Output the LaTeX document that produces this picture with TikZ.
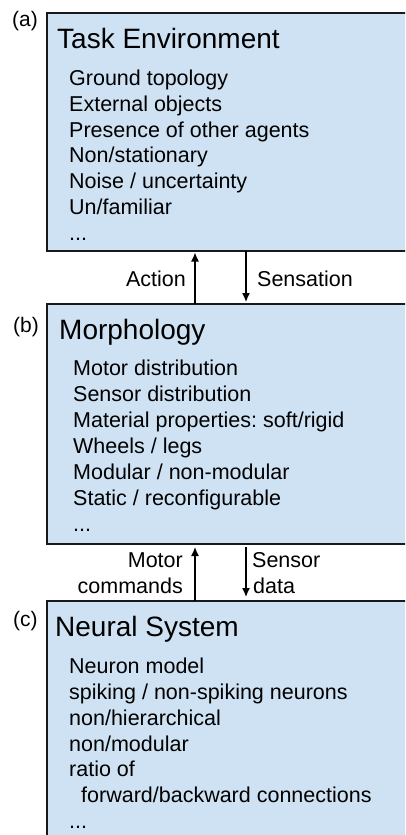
\documentclass[tikz,border=0pt]{standalone}
\usepackage{fontspec}
\setmainfont{Liberation Sans}
\usetikzlibrary{arrows.meta}
\definecolor{boxblue}{HTML}{CFE2F3}
\frenchspacing
\begin{document}
\begin{tikzpicture}[x=1pt,y=-1pt,
  panel/.style={draw=black!90, line width=1.5pt, fill=boxblue, anchor=north west, inner sep=0pt, outer sep=0pt, minimum width=400pt},
  ttl/.style={anchor=base west, inner sep=0pt, font=\fontsize{28}{34}\selectfont},
  itm/.style={anchor=base west, inner sep=0pt, font=\fontsize{21.5}{26}\selectfont},
  tag/.style={anchor=base west, inner sep=0pt, font=\fontsize{21}{25}\selectfont},
  lbl/.style={inner sep=0pt, font=\fontsize{21.5}{26}\selectfont},
  arr/.style={line width=1.3pt, -{Latex[length=9pt,width=8pt]}}]
\useasboundingbox (0,0) rectangle (405,835);
\clip (0,0) rectangle (405,835);
% panels
\node[panel, minimum height=238pt] (A) at (47,13) {};
\node[panel, minimum height=240pt] (B) at (47,304) {};
\node[panel, minimum height=259pt] (C) at (47,601) {};
% tags
\node[tag] (ta) at (12,27) {(a)};
\node[tag] (tb) at (13,332) {(b)};
\node[tag] (tc) at (13,626) {(c)};
% panel A
\node[ttl] (a0) at (57,48) {Task Environment};
\node[itm] (a1) at (69,85.7) {Ground topology};
\node[itm] (a2) at (69,111.4) {External objects};
\node[itm] (a3) at (69,137.1) {Presence of other agents};
\node[itm] (a4) at (69,162.8) {Non/stationary};
\node[itm] (a5) at (69,188.5) {Noise / uncertainty};
\node[itm] (a6) at (69,214.2) {Un/familiar};
\node[itm] (a7) at (69,240) {...};
% panel B
\node[ttl] (b0) at (59,339) {Morphology};
\node[itm] (b1) at (73,375.7) {Motor distribution};
\node[itm] (b2) at (73,401.7) {Sensor distribution};
\node[itm] (b3) at (73,427.7) {Material properties: soft/rigid};
\node[itm] (b4) at (73,453.7) {Wheels / legs};
\node[itm] (b5) at (73,479.7) {Modular / non-modular};
\node[itm] (b6) at (73,505.7) {Static / reconfigurable};
\node[itm] (b7) at (73,531.7) {...};
% panel C
\node[ttl] (c0) at (55,636.7) {Neural System};
\node[itm] (c1) at (69,673.3) {Neuron model};
\node[itm] (c2) at (69,699.2) {spiking / non-spiking neurons};
\node[itm] (c3) at (69,725.1) {non/hierarchical};
\node[itm] (c4) at (69,751) {non/modular};
\node[itm] (c5) at (69,776.9) {ratio of};
\node[itm] (c6) at (81,802.8) {forward/backward connections};
\node[itm] (c7) at (69,828.7) {...};
% arrows between panels
\draw[arr] ([xshift=148pt]B.north west) -- ([xshift=148pt,yshift=-1.5pt]A.south west);
\draw[arr] ([xshift=199pt]A.south west) -- ([xshift=199pt,yshift=2pt]B.north west);
\draw[arr] ([xshift=148pt]C.north west) -- ([xshift=148pt,yshift=-3pt]B.south west);
\draw[arr] ([xshift=199pt,yshift=-3pt]B.south west) -- ([xshift=199pt,yshift=4pt]C.north west);
% arrow labels
\node[lbl, anchor=base east] (l1) at (186,286) {Action};
\node[lbl, anchor=base west] (l2) at (257,286) {Sensation};
\node[lbl, anchor=base east] (l3) at (183,567) {Motor};
\node[lbl, anchor=base east] (l4) at (183,593) {commands};
\node[lbl, anchor=base west] (l5) at (252,567) {Sensor};
\node[lbl, anchor=base west] (l6) at (253,593) {data};
\end{tikzpicture}
\end{document}
